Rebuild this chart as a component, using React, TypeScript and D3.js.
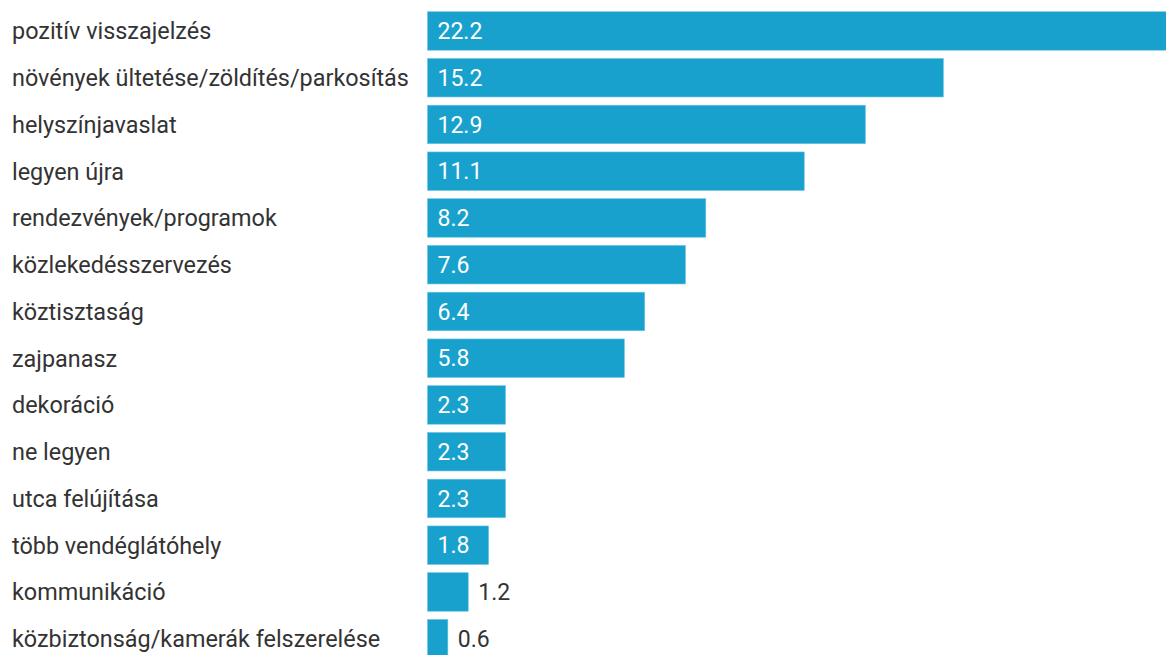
import React from "react";
// @ts-ignore
import * as d3 from "d3";

const CATEGORIES = [
  "pozitív visszajelzés",
  "növények ültetése/zöldítés/parkosítás",
  "helyszínjavaslat",
  "legyen újra",
  "rendezvények/programok",
  "közlekedésszervezés",
  "köztisztaság",
  "zajpanasz",
  "dekoráció",
  "ne legyen",
  "utca felújítása",
  "több vendéglátóhely",
  "kommunikáció",
  "közbiztonság/kamerák felszerelése",
];

const VALUES = [22.2, 15.2, 12.9, 11.1, 8.2, 7.6, 6.4, 5.8, 2.3, 2.3, 2.3, 1.8, 1.2, 0.6];

const WIDTH = 1166;
const HEIGHT = 655;
const BAR_LEFT = 427.5;
const LABEL_LEFT = 12;
const FONT = "Roboto, 'Noto Sans', sans-serif";
const BAR_COLOR = "#19a1cd";

const App = () => {
  const rows = CATEGORIES.map((c, i) => ({ name: c, value: VALUES[i] }));

  // scale chosen so the longest bar runs past the right edge, as in the original
  const x = d3.scaleLinear().domain([0, 22.2]).range([0, 753.5]);

  const step = 46.75;
  const inner = 0.176;
  const y = d3
    .scaleBand()
    .domain(CATEGORIES)
    .range([11.7, 11.7 + step * (CATEGORIES.length - inner)])
    .paddingInner(inner)
    .paddingOuter(0);

  const fmt = d3.format(".1f");

  return (
    <div
      style={{
        position: "fixed",
        left: 0,
        top: 0,
        width: WIDTH,
        height: HEIGHT,
        overflow: "hidden",
        background: "#fff",
      }}
    >
      <svg width={WIDTH} height={HEIGHT} style={{ display: "block" }} fontFamily={FONT}>
        {rows.map((d) => {
          const top = y(d.name) as number;
          const h = y.bandwidth();
          const w = x(d.value);
          const label = fmt(d.value);
          const inside = w > 50;
          return (
            <g key={d.name}>
              <text
                x={LABEL_LEFT}
                y={top + h / 2}
                dy="0.36em"
                fontSize={23.4}
                fill="#333"
              >
                {d.name}
              </text>
              <rect
                x={BAR_LEFT}
                y={top}
                width={w}
                height={h}
                fill={BAR_COLOR}
                stroke="#6cc6e3"
                strokeWidth={0.6}
              />
              <text
                x={inside ? BAR_LEFT + 10 : BAR_LEFT + w + 10}
                y={top + h / 2}
                dy="0.36em"
                fontSize={23}
                fill={inside ? "#fff" : "#333"}
              >
                {label}
              </text>
            </g>
          );
        })}
      </svg>
    </div>
  );
};

export default App;
